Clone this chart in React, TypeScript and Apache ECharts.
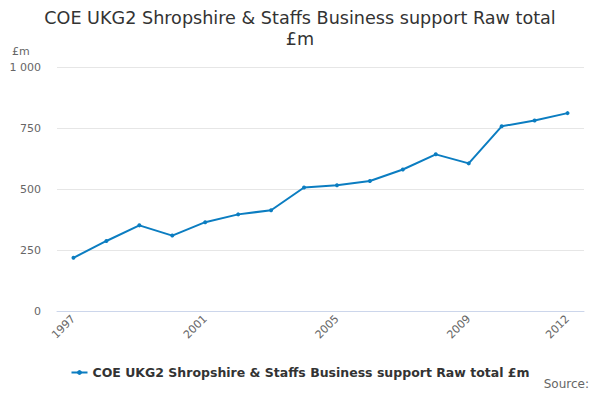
import { useEffect, useRef } from 'react';
import * as echarts from 'echarts';

const years = [
  '1997', '1998', '1999', '2000', '2001', '2002', '2003', '2004',
  '2005', '2006', '2007', '2008', '2009', '2010', '2011', '2012',
];
const rawTotal = [218, 287, 351, 309, 364, 396, 413, 506, 515, 533, 580, 642, 605, 757, 781, 811];
const shownYears = ['1997', '2001', '2005', '2009', '2012'];
const seriesName = 'COE UKG2 Shropshire & Staffs Business support Raw total £m';

export default function App() {
  const chartRef = useRef<HTMLDivElement>(null);

  useEffect(() => {
    if (!chartRef.current) return;
    const chart = echarts.init(chartRef.current, null, { renderer: 'svg' });

    const font = 'DejaVu Sans, sans-serif';
    chart.setOption({
      animation: false,
      textStyle: { fontFamily: font },
      title: {
        text: 'COE UKG2 Shropshire & Staffs Business support Raw total\n£m',
        left: 'center',
        top: 2,
        textStyle: { fontSize: 17.6, fontWeight: 'normal', color: '#333333', lineHeight: 21, fontFamily: font },
      },
      grid: { left: 57, right: 16, top: 67, bottom: 89 },
      legend: {
        bottom: 16,
        left: 'center',
        data: [seriesName],
        itemWidth: 16,
        itemHeight: 6,
        textStyle: { fontSize: 12.5, fontWeight: 'bold', color: '#333333', fontFamily: font },
      },
      graphic: [
        {
          type: 'text',
          left: 12,
          top: 46,
          style: { text: '£m', fontSize: 11, fill: '#666666', fontFamily: font },
        },
        {
          type: 'text',
          right: 11,
          top: 378,
          style: { text: 'Source:', fontSize: 12, fill: '#666666', fontFamily: font },
        },
      ],
      xAxis: {
        type: 'category',
        data: years,
        boundaryGap: true,
        axisLine: { lineStyle: { color: '#ccd6eb' } },
        axisTick: { alignWithLabel: true, length: 10, lineStyle: { color: '#ccd6eb' }, interval: 0 },
        axisLabel: {
          rotate: 45,
          color: '#666666',
          fontSize: 11,
          margin: 6,
          interval: (_i: number, v: string) => shownYears.includes(v),
        },
      },
      yAxis: {
        type: 'value',
        min: 0,
        max: 1000,
        interval: 250,
        axisLine: { show: false },
        axisTick: { show: false },
        splitLine: { lineStyle: { color: '#e6e6e6' } },
        axisLabel: {
          color: '#666666',
          fontSize: 11,
          margin: 16,
          formatter: (v: number) => (v >= 1000 ? '1 000' : String(v)),
        },
      },
      series: [
        {
          name: seriesName,
          type: 'line',
          data: rawTotal,
          symbol: 'circle',
          symbolSize: 4,
          lineStyle: { width: 2, color: '#0b7dc1' },
          itemStyle: { color: '#0b7dc1' },
        },
      ],
    });

    return () => chart.dispose();
  }, []);

  return <div ref={chartRef} style={{ width: 600, height: 400, margin: -8 }} />;
}
